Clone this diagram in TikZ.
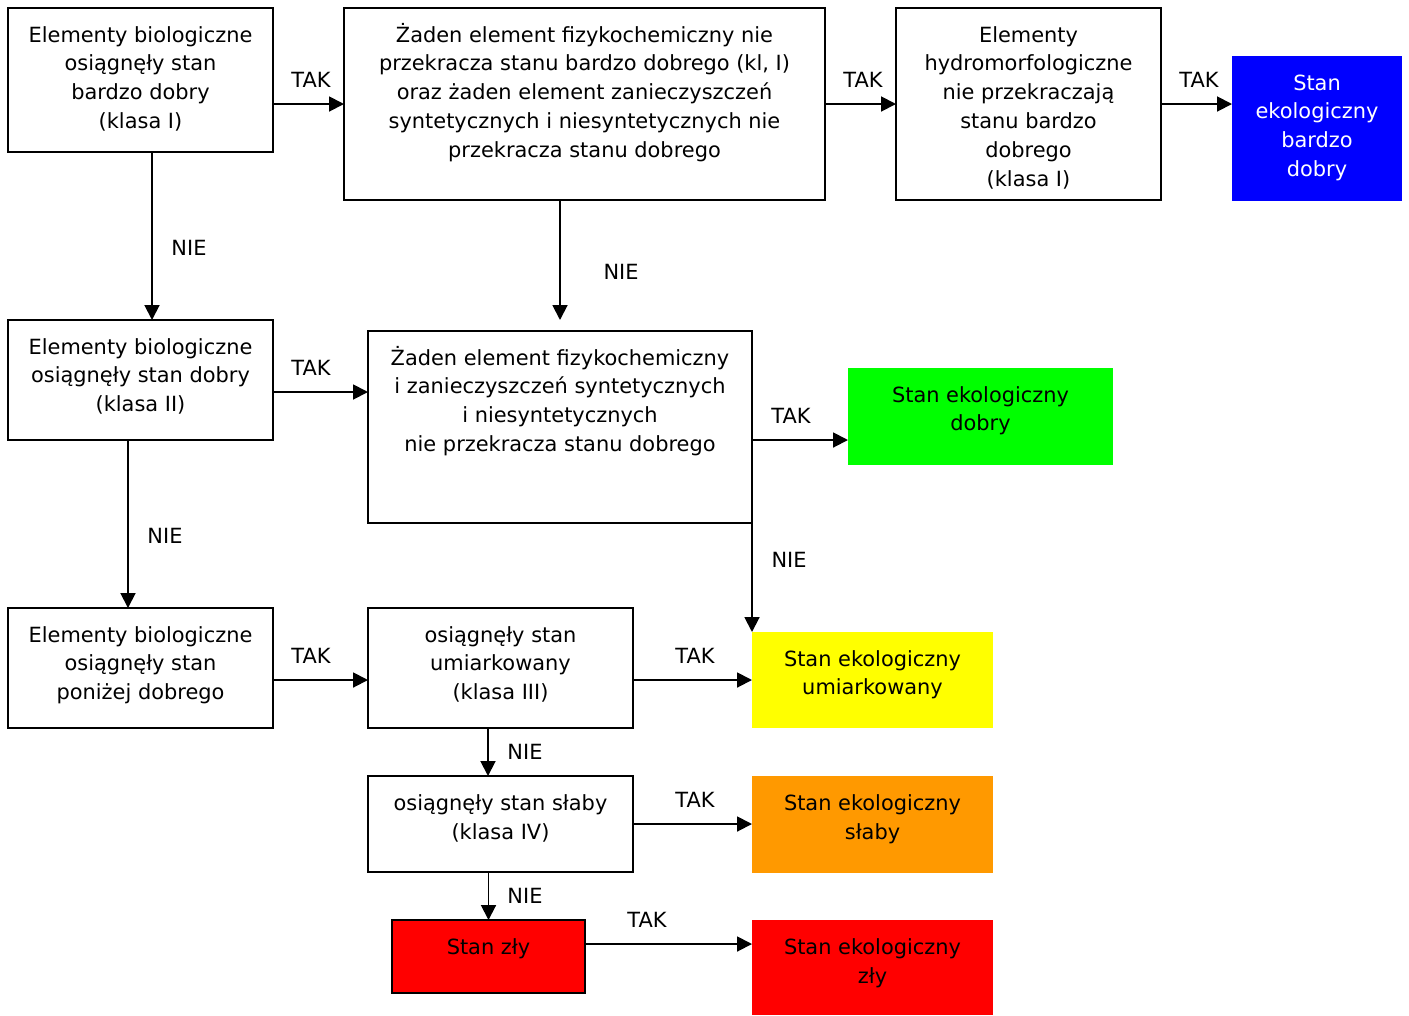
\documentclass[tikz,border=0pt]{standalone}
\usepackage{fontspec}
\setmainfont{DejaVu Sans}
\usetikzlibrary{arrows.meta,calc}

\definecolor{bardzodobry}{RGB}{0,0,255}
\definecolor{dobry}{RGB}{0,255,0}
\definecolor{umiarkowany}{RGB}{255,255,0}
\definecolor{slaby}{RGB}{255,153,0}
\definecolor{zly}{RGB}{255,0,0}

\newlength{\pxunit}
\setlength{\pxunit}{0.02cm}
\newcommand{\boxtxt}[3]{\begin{minipage}[c][#2\pxunit][t]{#1\pxunit}\vspace*{14\pxunit}\centering\strut #3\end{minipage}}

\tikzset{
  krok/.style={draw=black, line width=1.1pt, inner sep=0pt, outer sep=0pt},
  wynik/.style={inner sep=0pt, outer sep=0pt},
  opis/.style={inner sep=0pt},
  strz/.style={line width=1.1pt, -{Triangle[length=8.5pt,width=8.5pt]}}
}

\begin{document}
\begin{tikzpicture}[x=0.02cm, y=-0.02cm, font=\fontsize{11.9pt}{16.4pt}\selectfont]
        \useasboundingbox (0,0) rectangle (1409,1015);

        \node[krok] (A) at (140.5,80) {\boxtxt{265}{144}{Elementy biologiczne\\osiągnęły stan\\bardzo dobry\\(klasa I)}};
        \node[krok] (B) at (584.5,104) {\boxtxt{481}{192}{Żaden element fizykochemiczny nie\\przekracza stanu bardzo dobrego (kl, I)\\oraz żaden element zanieczyszczeń\\syntetycznych i niesyntetycznych nie\\przekracza stanu dobrego}};
        \node[krok] (C) at (1028.5,104) {\boxtxt{265}{192}{Elementy\\hydromorfologiczne\\nie przekraczają\\stanu bardzo\\dobrego\\(klasa I)}};
        \node[wynik,fill=bardzodobry,text=white] (D) at (1317,128.5) {\boxtxt{170}{145}{Stan\\ekologiczny\\bardzo\\dobry}};

        \node[krok] (F) at (140.5,380) {\boxtxt{265}{120}{Elementy biologiczne\\osiągnęły stan dobry\\(klasa II)}};
        \node[krok] (E) at (560,427) {\boxtxt{384}{192}{Żaden element fizykochemiczny\\i zanieczyszczeń syntetycznych\\i niesyntetycznych\\nie przekracza stanu dobrego}};
        \node[wynik,fill=dobry] (G) at (980.5,416.5) {\boxtxt{265}{97}{Stan ekologiczny\\dobry}};

        \node[krok] (H) at (140.5,668) {\boxtxt{265}{120}{Elementy biologiczne\\osiągnęły stan\\poniżej dobrego}};
        \node[krok] (I) at (500.5,668) {\boxtxt{265}{120}{osiągnęły stan\\umiarkowany\\(klasa III)}};
        \node[wynik,fill=umiarkowany] (J) at (872.5,680) {\boxtxt{241}{96}{Stan ekologiczny\\umiarkowany}};

        \node[krok] (K) at (500.5,824) {\boxtxt{265}{96}{osiągnęły stan słaby\\(klasa IV)}};
        \node[wynik,fill=slaby] (L) at (872.5,824.5) {\boxtxt{241}{97}{Stan ekologiczny\\słaby}};

        \node[krok,fill=zly] (M) at (488.5,956.5) {\boxtxt{193}{73}{Stan zły}};
        \node[wynik,fill=zly] (N) at (872.5,967.5) {\boxtxt{241}{95}{Stan ekologiczny\\zły}};

        % TAK / NIE
        \node[opis] (tak1) at (311,80) {TAK};
        \node[opis] (tak2) at (863,80) {TAK};
        \node[opis] (tak3) at (1199,80) {TAK};
        \node[opis] (nie1) at (189,248) {NIE};
        \node[opis] (nie2) at (621,272) {NIE};
        \node[opis] (tak4) at (311,368) {TAK};
        \node[opis] (tak5) at (791,416) {TAK};
        \node[opis] (nie3) at (165,536) {NIE};
        \node[opis] (nie4) at (789,560) {NIE};
        \node[opis] (tak6) at (311,656) {TAK};
        \node[opis] (tak7) at (695,656) {TAK};
        \node[opis] (nie5) at (525,752) {NIE};
        \node[opis] (tak8) at (695,800) {TAK};
        \node[opis] (nie6) at (525,896) {NIE};
        \node[opis] (tak9) at (647,920) {TAK};

        \coordinate (be) at ($(E.north)+(0,-11)$);

        \draw[strz] (A.east |- B.west) -- (B.west);
        \draw[strz] (B.east) -- (C.west);
        \draw[strz] (C.east) -- (C.east -| D.west);
        \draw[strz] ($(A.south)+(11.5,0)$) coordinate (af) -- (af |- F.north);
        \draw[strz] (be |- B.south) -- (be);
        \draw[strz] ($(F.east)+(0,12)$) coordinate (fe) -- (fe -| E.west);
        \draw[strz] ($(E.east)+(0,13)$) coordinate (eg) -- (eg -| G.west);
        \draw[strz] (E.south east) -- (J.north west);
        \draw[strz] ($(F.south)+(-12.5,0)$) coordinate (fh) -- (fh |- H.north);
        \draw[strz] ($(H.east)+(0,12)$) coordinate (hi) -- (hi -| I.west);
        \draw[strz] (I.east |- J.west) -- (J.west);
        \draw[strz] ($(I.south)+(-12.5,0)$) coordinate (ik) -- (ik |- K.north);
        \draw[strz] (K.east) -- (K.east -| L.west);
        \draw[strz] (M.north |- K.south) -- (M.north);
        \draw[strz] ($(M.east)+(0,-12.5)$) coordinate (mn) -- (mn -| N.west);
\end{tikzpicture}
\end{document}
